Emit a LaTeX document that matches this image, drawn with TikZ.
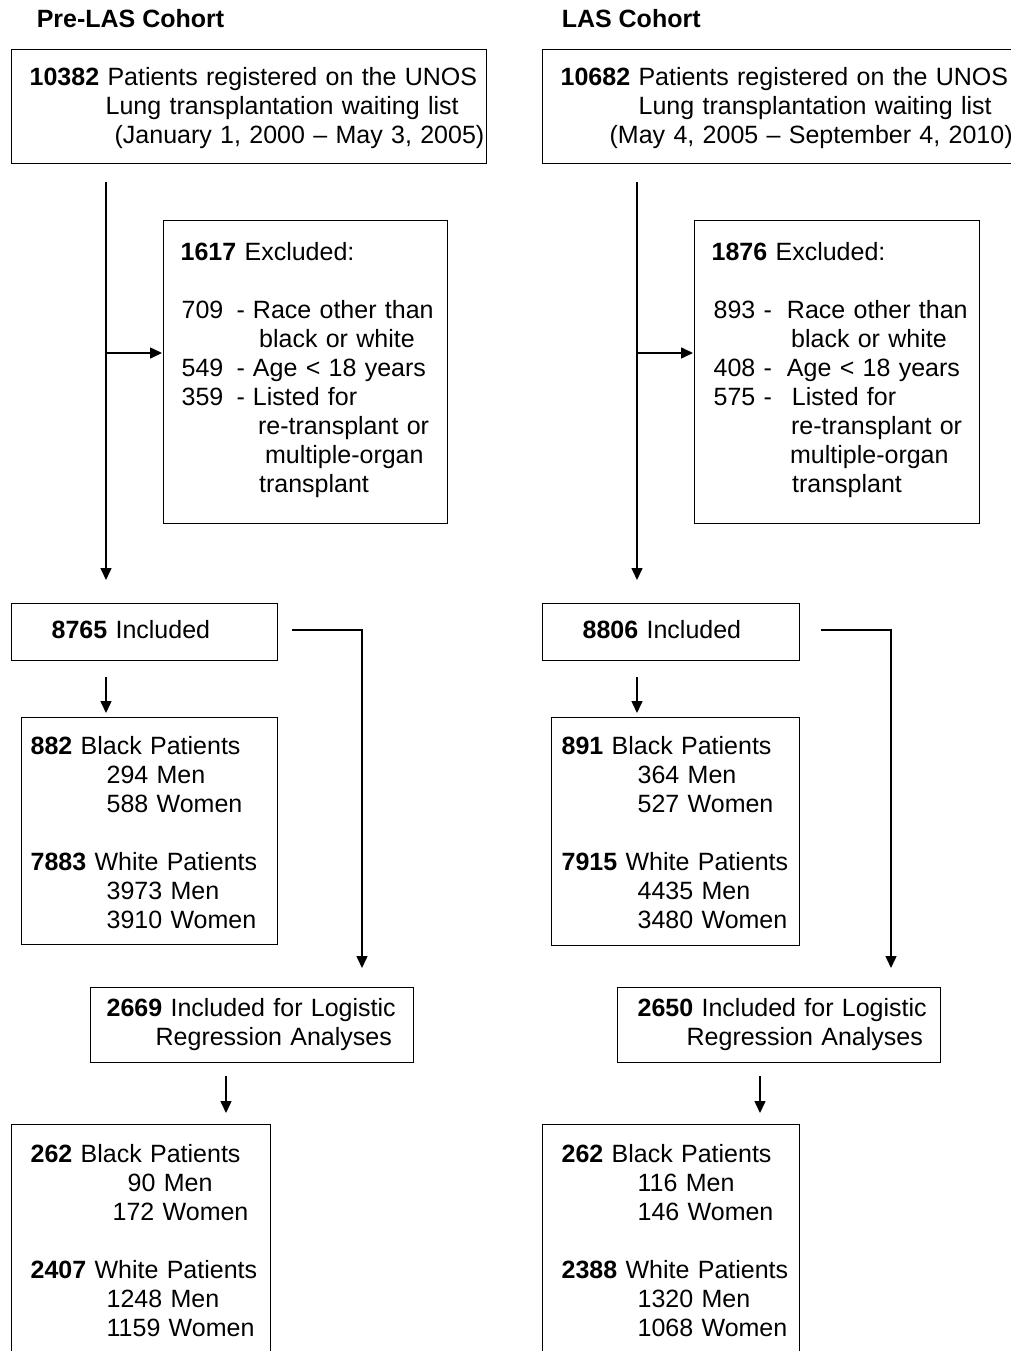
\documentclass[tikz,border=0pt]{standalone}
\usepackage{fontspec}
\setmainfont{Liberation Sans}
\usetikzlibrary{%
  arrows.meta% wg. Triangle
}

\begin{document}
\begin{tikzpicture}
    [   x=1pt
    ,   y=-1pt
    ,   >={Triangle[length=12pt,width=11pt]}
    ,   line width=1.5pt
    ,   font=\fontsize{25pt}{29pt}\selectfont
    ,   head/.style=
            {   anchor=base west
            ,   inner sep=0pt
            ,   font=\fontsize{25pt}{29pt}\selectfont\bfseries
            }
    ,   box/.style=
            {   % The shape:
                rectangle
            ,   draw=black
            ,   line width=1.3pt
            ,   anchor=north west
            ,   inner sep=0pt
            ,   % The rest
                align=left
            }
    ]
    \useasboundingbox (0,0) rectangle (1010,1351);

    \node[head](headL) at (36,27.5){Pre-LAS Cohort};
    \node[head](headR) at (561,27.5){LAS Cohort};

    % Pre-LAS cohort
    \node[box,text width=475pt,text height=35.5pt,text depth=78.5pt](topL) at (11,49)
        {\hspace*{18pt}\textbf{10382} Patients registered on the UNOS\\
         \hspace*{94pt}Lung transplantation waiting list\\
         \hspace*{103pt}(January 1, 2000 -- May 3, 2005)};
    \node[box,text width=284pt,text height=40pt,text depth=263pt](exclL) at (163,220)
        {\hspace*{17pt}\textbf{1617} Excluded:\\[29pt]
         \hspace*{18pt}\makebox[55pt][l]{709}-\hspace{8pt}Race other than\\
         \hspace*{95.5pt}black or white\\
         \hspace*{18pt}\makebox[55pt][l]{549}-\hspace{8pt}Age < 18 years\\
         \hspace*{18pt}\makebox[55pt][l]{359}-\hspace{8pt}Listed for\\
         \hspace*{94.5pt}re-transplant or\\
         \hspace*{101.5pt}multiple-organ\\
         \hspace*{95.5pt}transplant};
    \node[box,text width=266pt,text height=35pt,text depth=22pt](inclL) at (11,603)
        {\hspace*{40pt}\textbf{8765} Included};
    \node[box,text width=256pt,text height=37pt,text depth=190pt](bwL) at (21,717)
        {\hspace*{9pt}\textbf{882} Black Patients\\
         \hspace*{85pt}294 Men\\
         \hspace*{85pt}588 Women\\[29pt]
         \hspace*{9pt}\textbf{7883} White Patients\\
         \hspace*{85pt}3973 Men\\
         \hspace*{85pt}3910 Women};
    \node[box,text width=323pt,text height=29pt,text depth=46pt](logL) at (90,987)
        {\hspace*{16pt}\textbf{2669} Included for Logistic\\
         \hspace*{65pt}Regression Analyses};
    \node[box,text width=259pt,text height=38pt,text depth=192pt](botL) at (11,1124)
        {\hspace*{19pt}\textbf{262} Black Patients\\
         \hspace*{116pt}90 Men\\
         \hspace*{101pt}172 Women\\[29pt]
         \hspace*{19pt}\textbf{2407} White Patients\\
         \hspace*{95pt}1248 Men\\
         \hspace*{95pt}1159 Women};

    % LAS cohort
    \node[box,text width=475pt,text height=35.5pt,text depth=78.5pt](topR) at (542,49)
        {\hspace*{18pt}\textbf{10682} Patients registered on the UNOS\\
         \hspace*{96pt}Lung transplantation waiting list\\
         \hspace*{67pt}(May 4, 2005 -- September 4, 2010)};
    \node[box,text width=285pt,text height=40pt,text depth=263pt](exclR) at (694,220)
        {\hspace*{17pt}\textbf{1876} Excluded:\\[29pt]
         \hspace*{19pt}\makebox[50pt][l]{893}-\hspace{15pt}Race other than\\
         \hspace*{96.5pt}black or white\\
         \hspace*{19pt}\makebox[50pt][l]{408}-\hspace{15pt}Age < 18 years\\
         \hspace*{19pt}\makebox[50pt][l]{575}-\hspace{20pt}Listed for\\
         \hspace*{96.5pt}re-transplant or\\
         \hspace*{95.5pt}multiple-organ\\
         \hspace*{97.5pt}transplant};
    \node[box,text width=257pt,text height=35pt,text depth=22pt](inclR) at (542,603)
        {\hspace*{40pt}\textbf{8806} Included};
    \node[box,text width=248pt,text height=37pt,text depth=191pt](bwR) at (551,717)
        {\hspace*{10pt}\textbf{891} Black Patients\\
         \hspace*{86pt}364 Men\\
         \hspace*{86pt}527 Women\\[29pt]
         \hspace*{10pt}\textbf{7915} White Patients\\
         \hspace*{86pt}4435 Men\\
         \hspace*{86pt}3480 Women};
    \node[box,text width=323pt,text height=29pt,text depth=46pt](logR) at (617,987)
        {\hspace*{20pt}\textbf{2650} Included for Logistic\\
         \hspace*{69pt}Regression Analyses};
    \node[box,text width=257pt,text height=38pt,text depth=192pt](botR) at (542,1124)
        {\hspace*{19pt}\textbf{262} Black Patients\\
         \hspace*{95pt}116 Men\\
         \hspace*{95pt}146 Women\\[29pt]
         \hspace*{19pt}\textbf{2388} White Patients\\
         \hspace*{95pt}1320 Men\\
         \hspace*{95pt}1068 Women};

    % connectors
    \coordinate (spineL) at (106,353);
    \coordinate (turnL) at (362,630);
    \coordinate (dropL) at (226,1094);
    \coordinate (spineR) at (637,353);
    \coordinate (turnR) at (891,630);
    \coordinate (dropR) at (760,1094);

    \draw[->,shorten <=18pt,shorten >=23pt](topL.south -| spineL)--(inclL.north -| spineL);
    \draw[->,shorten >=1pt](spineL)--(exclL.west |- spineL);
    \draw[->,shorten <=16pt,shorten >=4pt](inclL.south -| spineL)--(bwL.north -| spineL);
    \draw[->,shorten <=14pt,shorten >=19pt](inclL.east |- turnL)--(turnL)--(logL.north -| turnL);
    \draw[->,shorten <=13pt,shorten >=11pt](logL.south -| dropL)--(botL.north -| dropL);

    \draw[->,shorten <=18pt,shorten >=23pt](topR.south -| spineR)--(inclR.north -| spineR);
    \draw[->,shorten >=1pt](spineR)--(exclR.west |- spineR);
    \draw[->,shorten <=16pt,shorten >=4pt](inclR.south -| spineR)--(bwR.north -| spineR);
    \draw[->,shorten <=21pt,shorten >=19pt](inclR.east |- turnR)--(turnR)--(logR.north -| turnR);
    \draw[->,shorten <=13pt,shorten >=11pt](logR.south -| dropR)--(botR.north -| dropR);
\end{tikzpicture}
\end{document}
